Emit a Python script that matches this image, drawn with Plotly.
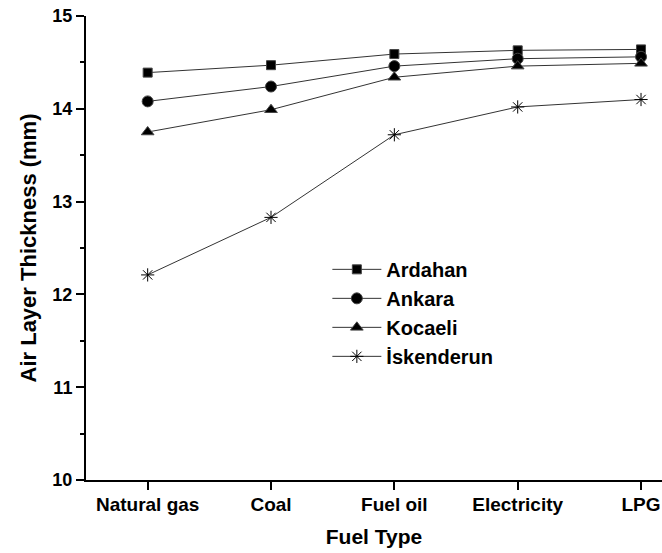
import plotly.graph_objects as go

fuel_types = ["Natural gas", "Coal", "Fuel oil", "Electricity", "LPG"]
ardahan = [14.39, 14.47, 14.59, 14.63, 14.64]
ankara = [14.08, 14.24, 14.46, 14.54, 14.56]
kocaeli = [13.75, 13.99, 14.34, 14.46, 14.49]
iskenderun = [12.21, 12.83, 13.72, 14.02, 14.10]

series = [
    ("Ardahan", ardahan, "square", 9),
    ("Ankara", ankara, "circle", 11),
    ("Kocaeli", kocaeli, "triangle-up", 11),
    ("İskenderun", iskenderun, "asterisk-open", 11),
]

fig = go.Figure()
for name, vals, sym, size in series:
    fig.add_trace(go.Scatter(
        x=list(range(len(fuel_types))), y=vals, name=name, mode="lines+markers",
        line=dict(color="#333333", width=1),
        marker=dict(symbol=sym, size=size, color="black",
                    line=dict(color="#444444", width=1)),
    ))

font_family = "Liberation Sans, Arial, sans-serif"
fig.update_layout(
    width=662, height=553,
    margin=dict(l=86, r=0, t=16, b=73),
    plot_bgcolor="white", paper_bgcolor="white",
    font=dict(family=font_family, color="black"),
    showlegend=True,
    legend=dict(x=0.419, y=0.496, xanchor="left", yanchor="top",
                font=dict(size=20, family=font_family, weight="bold"),
                bgcolor="rgba(0,0,0,0)", tracegroupgap=0, itemwidth=49),
)
fig.update_xaxes(
    range=[-0.5, 4.17], tickmode="array", tickvals=list(range(len(fuel_types))),
    ticktext=fuel_types, showline=True, linecolor="black", linewidth=2,
    ticks="outside", ticklen=8, tickwidth=2, tickcolor="black",
    showgrid=False, zeroline=False, ticklabelstandoff=-2,
    tickfont=dict(size=19, family=font_family, weight="bold"),
    title=dict(text="Fuel Type", font=dict(size=21, family=font_family, weight="bold"), standoff=16),
)
fig.update_yaxes(
    range=[10, 15], dtick=1, showline=True, linecolor="black", linewidth=2,
    ticks="outside", ticklen=8, tickwidth=2, tickcolor="black",
    minor=dict(dtick=0.5, ticks="outside", ticklen=4, tickwidth=2, tickcolor="black"),
    showgrid=False, zeroline=False,
    tickfont=dict(size=18, family=font_family, weight="bold"),
    title=dict(text="Air Layer Thickness (mm)", font=dict(size=22, family=font_family, weight="bold"), standoff=10),
)
fig.write_html(
    "out.html",
    config={"displayModeBar": False},
    post_script="document.body.style.margin='0';document.body.style.overflow='hidden';",
)
